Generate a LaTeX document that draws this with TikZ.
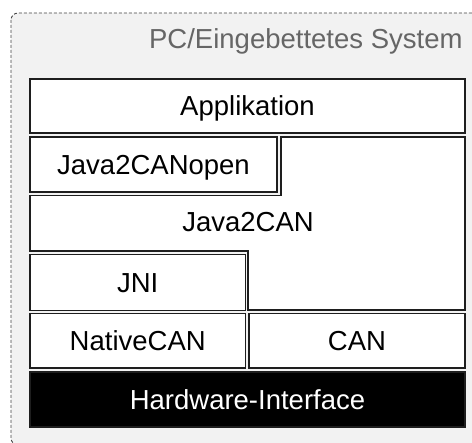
\documentclass[tikz,border=0pt]{standalone}
\usepackage{fontspec}
\setmainfont{Liberation Sans}
\definecolor{panel}{HTML}{F2F2F2}
\definecolor{edge}{HTML}{1E1E1E}
\definecolor{framegray}{HTML}{444444}
\definecolor{titlegray}{HTML}{666666}
\begin{document}
\begin{tikzpicture}[x=1pt,y=-1pt,
  label/.style={inner sep=0pt, text height=19.7pt, text depth=0pt,
    font=\fontsize{27.5}{32}\selectfont},
  layer/.style={label, draw=edge, line width=1.3pt, fill=white},
  hwlayer/.style={layer, fill=black, text=white}]
\useasboundingbox (0,0) rectangle (472,443);

% system frame (runs past the right and bottom edges)
\begin{scope}
  \clip (0,0) rectangle (472,443);
  \draw[fill=panel, draw=framegray, line width=0.9pt,
        dash pattern=on 3pt off 2pt, rounded corners=7pt]
        (11,13) rectangle (495,445);
\end{scope}
\node[anchor=base east, inner sep=0pt, text=titlegray,
      font=\fontsize{27.5}{32}\selectfont] (title) at (462.7,49) {PC/Eingebettetes System};

% layer stack
\node[layer, minimum width=435pt, minimum height=54pt] (app) at (247.5,106) {Applikation};
\node[layer, minimum width=247pt, minimum height=55pt] (j2co) at (153.5,164.5) {Java2CANopen};
\draw[draw=edge, line width=1.3pt, fill=white]
  (30,195.5) -- (281,195.5) -- (281,137) -- (465,137) -- (465,310)
  -- (248,310) -- (248,251) -- (30,251) -- cycle;
\node[label] (j2c) at (248,222) {Java2CAN};
\node[layer, minimum width=215.5pt, minimum height=56.5pt] (jni) at (137.75,282.5) {JNI};
\node[layer, minimum width=215.5pt, minimum height=54.5pt] (native) at (137.75,340.75) {NativeCAN};
\node[layer, minimum width=216pt, minimum height=54.5pt] (can) at (357,340.75) {CAN};
\node[hwlayer, minimum width=435pt, minimum height=55pt] (hw) at (247.5,399.5) {Hardware-Interface};
\end{tikzpicture}
\end{document}
